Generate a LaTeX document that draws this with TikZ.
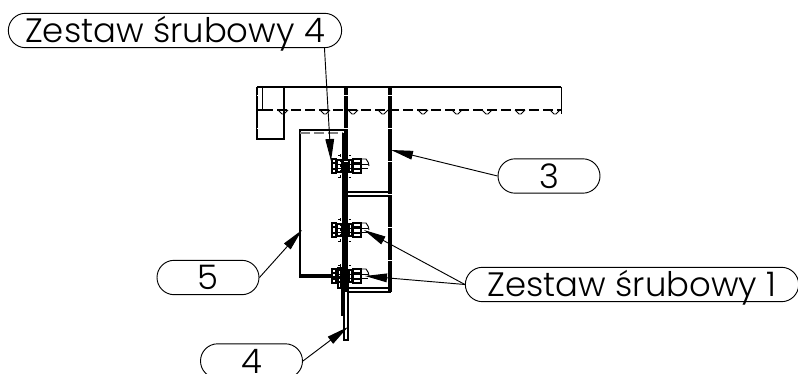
\documentclass[tikz,border=0pt]{standalone}
\usepackage{fontspec}
\setmainfont{Poppins Light}
\usetikzlibrary{shapes.misc,arrows.meta}
\tikzset{
  x=0.75pt,y=-0.75pt,
  balloon/.style={draw,rounded rectangle,line width=0.7pt,inner sep=0pt,font=\fontsize{25.4}{25.4}\selectfont,
    text height=18pt,text depth=0pt,minimum height=25.8pt,minimum width=76.5pt},
  longballoon/.style={balloon,minimum width=250pt},
  leader/.style={line width=0.7pt,-{Triangle[length=16.5pt,width=6.5pt]}},
  heavy/.style={line width=1.5pt},
  med/.style={line width=1.1pt},
  thin part/.style={line width=0.7pt},
  hid/.style={line width=1.1pt,dash pattern=on 7.5pt off 3pt},
  hidfine/.style={line width=0.6pt,dash pattern=on 2pt off 2pt},
  fleck/.style={white,line width=2.6pt,dash pattern=on 0.8pt off 24pt},
}
\newcommand{\boltset}[1]{%
  \begin{scope}[yshift=#1*-0.75pt]
    \draw[heavy] (332,-7) rectangle (336,7);
    \draw[med] (332,-3) -- (336,-3) (332,3) -- (336,3);
    \draw[med] (337,-6) rectangle (342,6);
    \draw[med] (349,-6) rectangle (352,6);
    \draw[heavy] (353,-7) rectangle (361,7);
    \draw[med] (353,-3) -- (361,-3) (353,3) -- (361,3);
    \draw[thin part] (336,-2) -- (368,-2) (336,2) -- (368,2);
    \draw[thin part] (362,-7) -- (366,-7) .. controls (368,-5) and (369,-2) .. (369,0);
    \draw[hidfine] (338,-11) -- (352,-11) (338,11) -- (352,11);
    \draw[hidfine] (340,-12) -- (340,12);
  \end{scope}}
\begin{document}
\begin{tikzpicture}
\useasboundingbox (0,0) rectangle (798,374);
% beam
\draw[heavy] (257,87) -- (561,87);
\draw[thin part] (561,87) -- (561,114);
\draw[heavy] (257,87) -- (257,139) -- (284,139) -- (284,87);
\draw[med] (262.5,87) -- (262.5,110);
\draw[med] (257,110) -- (263,110);
\draw[hid] (263,110) -- (561,110);
\foreach \vx in {283,325,353,383,423,457,487,520,555}{
  \draw[thin part] (\vx-5,110) -- (\vx-1,114) -- (\vx+1,114) -- (\vx+5,110);
}
% column
\draw[heavy] (345,87) -- (345,292);
\draw[heavy] (347,87) -- (347,292);
\draw[heavy] (388.5,87) -- (388.5,292);
\draw[heavy] (391,87) -- (391,292);
\draw[fleck] (346,95) -- (346,190);
\draw[fleck] (389.8,95) -- (389.8,290);
\draw[fleck] (259,95) -- (259,140);
\draw[med] (347,192) -- (389,192);
\draw[heavy] (347,196) -- (389,196);
\draw[heavy] (347,292) -- (391,292);
\draw[med] (347,288) -- (389,288);
% bracket 5
\draw[heavy] (343,277) -- (300,277) -- (300,130) -- (345,130);
\draw[hid,gray] (300,133) -- (343,133);
\draw[med] (300,275) -- (332,275);
\draw[med] (343,133) -- (343,315);
% plate 4
\draw[med] (341.5,270) -- (341.5,315) -- (344,315);
\draw[heavy] (344,270) -- (344,340) -- (348,340) -- (348,280);
% bolts
\boltset{166}
\boltset{230}
\boltset{276}
\draw[med] (338,268) rectangle (341,288);
% balloons
\node[longballoon] (z4) at (175,30.5) {Zestaw śrubowy 4};
\node[longballoon] (z1) at (632,284.5) {Zestaw śrubowy 1};
\node[balloon] (n3) at (549,176) {3};
\node[balloon] (n5) at (208,277.5) {5};
\node[balloon] (n4) at (251.5,361) {4};
% targets
\coordinate (t4z) at (331,161);
\coordinate (t3) at (391,150);
\coordinate (t5) at (302,230);
\coordinate (t4) at (348,327);
\coordinate (t1a) at (364,230);
\coordinate (t1b) at (365,276);
% leaders
\draw[leader] (z4.south east) -- (t4z);
\draw[leader] (n3.west) -- (t3);
\draw[leader] (n5.east) -- (t5);
\draw[leader] (n4.east) -- (t4);
\draw[leader] (z1.west) -- (t1a);
\draw[leader] (z1.west) -- (t1b);
\end{tikzpicture}
\end{document}
